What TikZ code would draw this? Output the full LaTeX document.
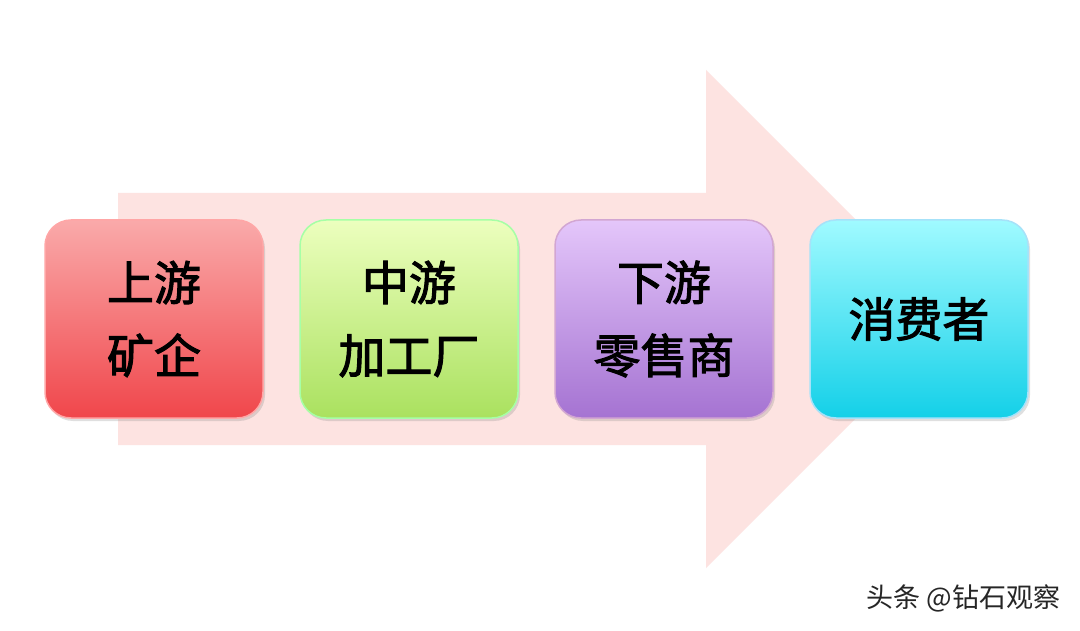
\documentclass[tikz,border=0pt]{standalone}
\usepackage{fontspec}
\newfontfamily\cjk{Noto Sans CJK SC}
\newfontfamily\cjkfb[FakeBold=2.2]{Noto Sans CJK SC}
\usetikzlibrary{shadows}
\definecolor{arrowpink}{HTML}{FDE3E1}
\tikzset{
  stagebox/.style={rounded corners=26pt, minimum width=218pt, minimum height=198pt,
    inner sep=0pt, draw=#1!35!white, line width=1.5pt,
    align=center, font=\cjkfb\fontsize{47pt}{73pt}\selectfont,
    drop shadow={shadow xshift=2pt, shadow yshift=-3pt, opacity=0.25}},
  wmtext/.style={font=\cjk\fontsize{27pt}{30pt}\selectfont, text=black!85}
}
\begin{document}
\begin{tikzpicture}[x=1pt,y=-1pt]
\useasboundingbox (0,0) rectangle (1080,631);
\fill[white] (0,0) rectangle (1080,631);
% big arrow
\fill[arrowpink] (118,193) -- (706,193) -- (706,70) -- (955,319) -- (706,568) -- (706,445) -- (118,445) -- cycle;
% boxes
\node[stagebox=red, top color={rgb,255:red,250;green,170;blue,170}, bottom color={rgb,255:red,240;green,70;blue,75}] (b1) at (154,319) {上游\\矿企};
\node[stagebox=green, top color={rgb,255:red,236;green,255;blue,190}, bottom color={rgb,255:red,170;green,225;blue,95}] (b2) at (409,319) {中游\\加工厂};
\node[stagebox=violet, top color={rgb,255:red,228;green,198;blue,250}, bottom color={rgb,255:red,165;green,115;blue,210}] (b3) at (664,319) {下游\\零售商};
\node[stagebox=cyan, top color={rgb,255:red,160;green,250;blue,255}, bottom color={rgb,255:red,20;green,208;blue,232}] (b4) at (919,319) {消费者};
% watermark
\node[wmtext, anchor=east] (wm) at (1064,598) {头条 @钻石观察};
\end{tikzpicture}
\end{document}
